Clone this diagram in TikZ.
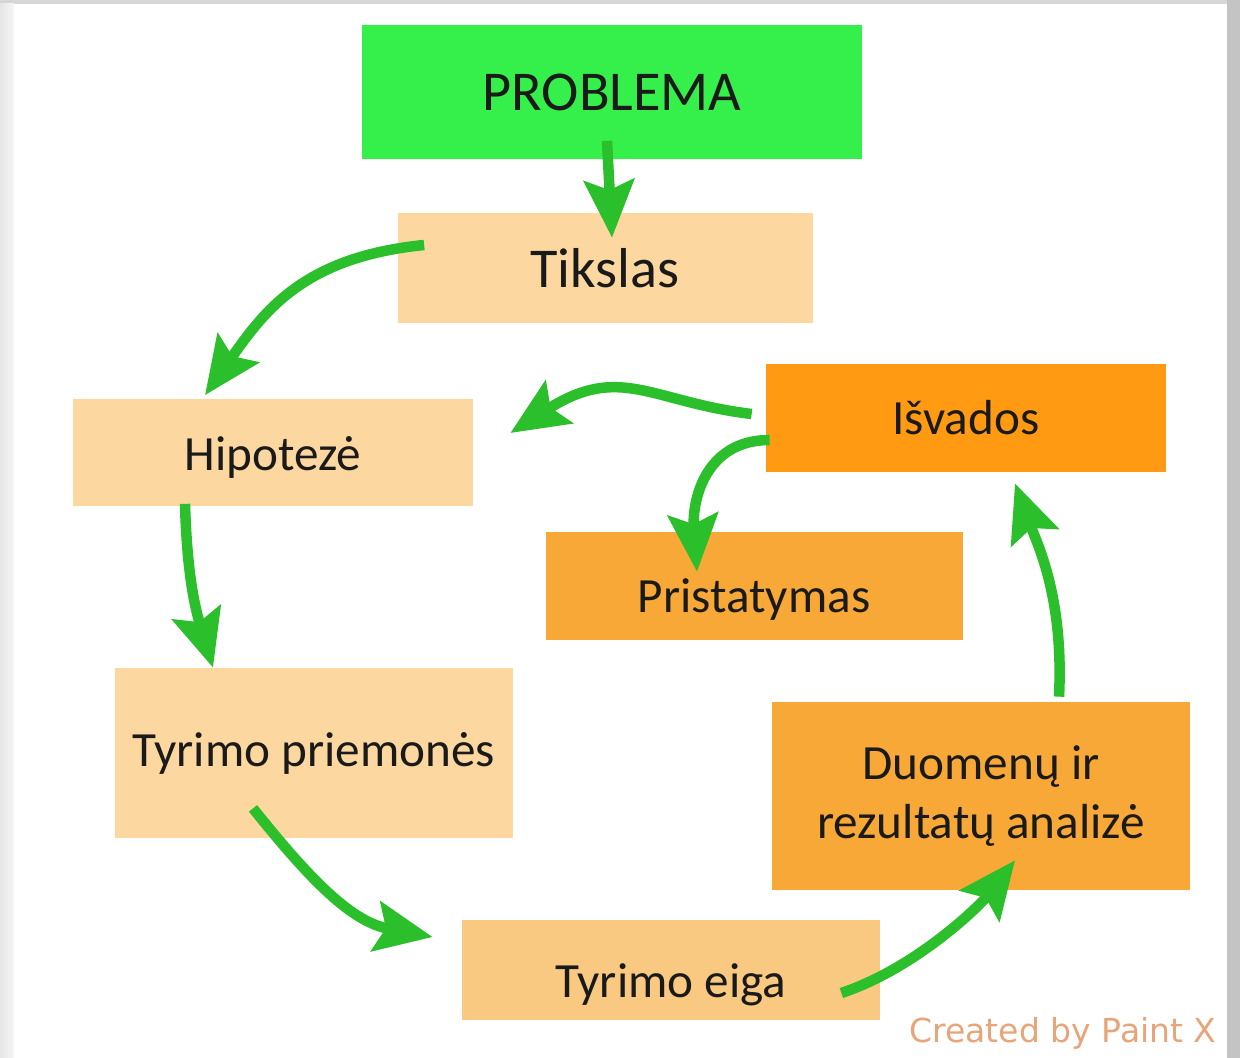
\documentclass[tikz,border=0pt]{standalone}
\usepackage{fontspec}
\setmainfont{Carlito}
\newfontfamily\markfont{DejaVu Sans}
\usetikzlibrary{arrows.meta}
\definecolor{ink}{HTML}{1A1A1A}
\definecolor{prb}{HTML}{35F04B}
\definecolor{pale}{HTML}{FCD7A0}
\definecolor{pale2}{HTML}{F9C982}
\definecolor{mid}{HTML}{F7A836}
\definecolor{deep}{HTML}{FF9A12}
\definecolor{arrg}{HTML}{2BBF2B}
\definecolor{frm}{HTML}{D6D6D6}
\definecolor{frmr}{HTML}{C4C4C4}
\definecolor{mark}{HTML}{E9A57A}

\begin{document}
\begin{tikzpicture}[x=0.2mm, y=-0.2mm,
  box/.style={fill=#1, draw=none, align=center, text=ink, inner sep=0pt, font=\fontsize{28}{34}\selectfont},
  big/.style={font=\fontsize{32}{38}\selectfont},
  lower/.style={text height=#1},
  arr/.style={-{Stealth[length=11.5mm, width=10mm, inset=2mm]}, line width=2.1mm, draw=arrg}]
\useasboundingbox (0,0) rectangle (1240,1058);
% ---------------- frame
\fill[frm] (0,0) rectangle (1240,1058);
\shade[left color=frm!60, right color=frm!25] (0,4) rectangle (14,1058);
\fill[frmr] (1227,0) rectangle (1240,1058);
\fill[white] (14,4) rectangle (1227,1058);
% ---------------- boxes
\node[box=prb, big, minimum width=100mm, minimum height=26.6mm] (prob) at (612,92) {PROBLEMA};
\node[box=pale, big, minimum width=83mm, minimum height=22mm] (tiks) at (605,268) {Tikslas};
\node[box=pale, lower=9mm, minimum width=80mm, minimum height=21.4mm] (hip) at (273,452) {Hipotezė};
\node[box=pale, minimum width=79.6mm, minimum height=34mm] (prie) at (314,753) {Tyrimo priemonės};
\node[box=pale2, lower=12.5mm, minimum width=83.6mm, minimum height=20mm] (eiga) at (671,970) {Tyrimo eiga};
\node[box=mid, minimum width=83.6mm, minimum height=37.6mm] (duom) at (981,796) {Duomenų ir\\rezultatų analizė};
\node[box=deep, minimum width=80mm, minimum height=21.6mm] (isv) at (966,418) {Išvados};
\node[box=mid, lower=12mm, minimum width=83.4mm, minimum height=21.6mm] (prist) at (754,586) {Pristatymas};
\node[text=mark, font=\markfont\fontsize{18.8}{22}\selectfont] (credit) at (1063,1033) {Created by Paint X};
% ---------------- arrows
\draw[arr] ([shift={(-5,-18)}]prob.south) -- ([shift={(7,25)}]tiks.north);
\draw[arr] ([shift={(27,-23)}]tiks.west) .. controls +(-120,12) and +(60,-85) .. ([shift={(-68,-3)}]hip.north);
\draw[arr] ([shift={(-88,-2)}]hip.south) .. controls +(2,70) and +(-18,-60) .. ([shift={(-101,0)}]prie.north);
\draw[arr] ([shift={(-61,-30)}]prie.south) .. controls +(60,75) and +(-80,-15) .. ([shift={(-29,-33)}]eiga.west);
\draw[arr] ([shift={(-39,23)}]eiga.east) .. controls +(75,-25) and +(-35,45) .. ([shift={(34,-30)}]duom.south);
\draw[arr] ([shift={(78,-5)}]duom.north) .. controls +(5,-100) and +(22,60) .. ([shift={(49,11)}]isv.south);
\draw[arr] ([shift={(-14,-4)}]isv.west) .. controls +(-100,-12) and +(110,-70) .. ([shift={(37,-19)}]hip.east);
\draw[arr] ([shift={(4,22)}]isv.west) .. controls +(-65,0) and +(-5,-70) .. ([shift={(-57,40)}]prist.north);
\end{tikzpicture}
\end{document}
